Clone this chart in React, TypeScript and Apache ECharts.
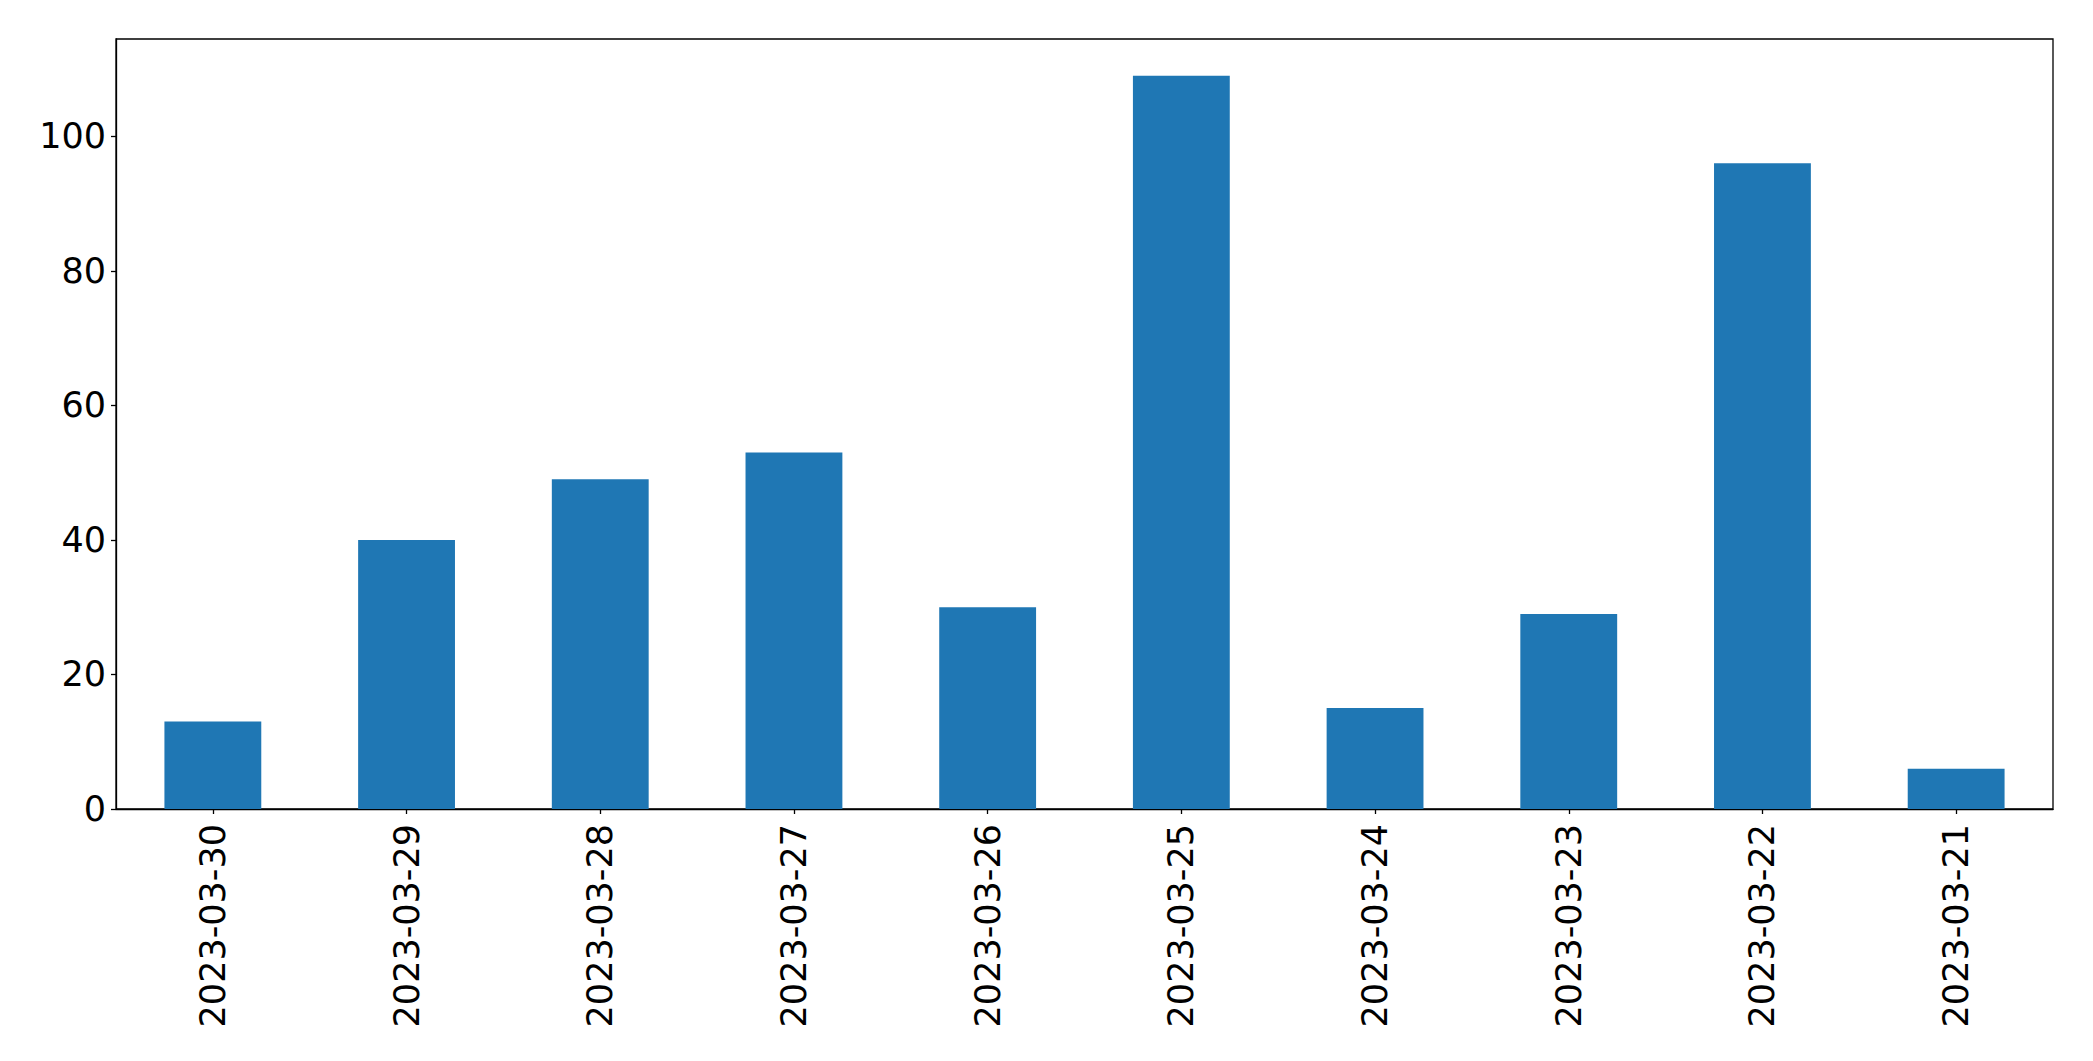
import React, { useEffect, useRef } from "react";
import * as echarts from "echarts";

const categories = [
  "2023-03-30",
  "2023-03-29",
  "2023-03-28",
  "2023-03-27",
  "2023-03-26",
  "2023-03-25",
  "2023-03-24",
  "2023-03-23",
  "2023-03-22",
  "2023-03-21",
];
const values = [13, 40, 49, 53, 30, 109, 15, 29, 96, 6];
const yMax = 114.45;
const yInterval = 20;

export default function App() {
  const ref = useRef<HTMLDivElement>(null);
  useEffect(() => {
    document.body.style.margin = "0";
    const chart = echarts.init(ref.current!, undefined, { renderer: "svg" });
    const font = "DejaVu Sans";
    chart.setOption({
      animation: false,
      backgroundColor: "#ffffff",
      grid: {
        left: 116,
        top: 39,
        right: 40,
        bottom: 252,
        show: true,
        borderColor: "#000",
        borderWidth: 1.3,
        containLabel: false,
      },
      xAxis: {
        type: "category",
        data: categories,
        axisLine: { show: true, lineStyle: { color: "#000", width: 1.3 } },
        axisTick: { show: true, alignWithLabel: true, length: 5, lineStyle: { color: "#000", width: 1.3 } },
        axisLabel: {
          rotate: 90,
          interval: 0,
          fontFamily: font,
          fontSize: 35,
          color: "#000",
          margin: 15,
        },
        splitLine: { show: false },
      },
      yAxis: {
        type: "value",
        min: 0,
        max: yMax,
        interval: yInterval,
        axisLine: { show: true, lineStyle: { color: "#000", width: 1.3 } },
        axisTick: { show: true, length: 5, lineStyle: { color: "#000", width: 1.3 } },
        axisLabel: {
          fontFamily: font,
          fontSize: 35,
          color: "#000",
          margin: 10,
          showMaxLabel: false,
          formatter: (v: number) => (v % yInterval === 0 ? String(v) : ""),
        },
        splitLine: { show: false },
      },
      series: [
        {
          type: "bar",
          data: values,
          barWidth: "50%",
          itemStyle: { color: "#1f77b4" },
        },
      ],
    });
    return () => chart.dispose();
  }, []);
  return <div ref={ref} style={{ width: 2093, height: 1061 }} />;
}
